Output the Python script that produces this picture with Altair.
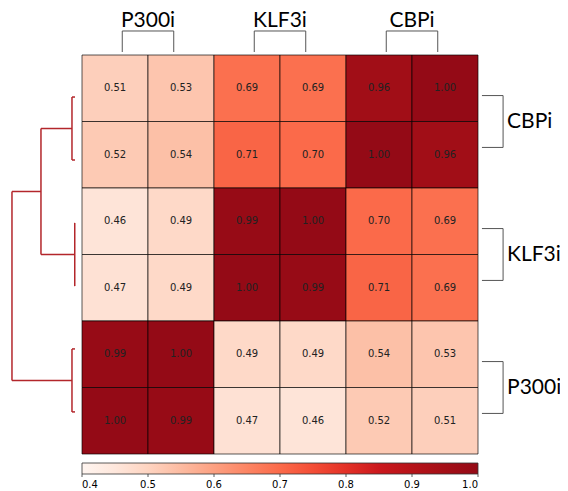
import altair as alt
import pandas as pd

# ---------------- data ----------------
row_labels = ["CBPi", "CBPi", "KLF3i", "KLF3i", "P300i", "P300i"]
col_labels = ["P300i", "P300i", "KLF3i", "KLF3i", "CBPi", "CBPi"]
values = [
    [0.51, 0.53, 0.69, 0.69, 0.96, 1.00],
    [0.52, 0.54, 0.71, 0.70, 1.00, 0.96],
    [0.46, 0.49, 0.99, 1.00, 0.70, 0.69],
    [0.47, 0.49, 1.00, 0.99, 0.71, 0.69],
    [0.99, 1.00, 0.49, 0.49, 0.54, 0.53],
    [1.00, 0.99, 0.47, 0.46, 0.52, 0.51],
]
col_groups = ["P300i", "KLF3i", "CBPi"]
row_groups = ["CBPi", "KLF3i", "P300i"]
colorbar_ticks = [0.4, 0.5, 0.6, 0.7, 0.8, 0.9, 1.0]
# linkage: (left node, right node, distance); leaves 0..5 in row order
linkage = [(0, 1, 0.048), (2, 3, 0.004), (4, 5, 0.048), (6, 7, 0.54), (9, 8, 1.0)]

# ---------------- styling / layout constants ----------------
VMIN, VMAX = 0.4, 1.0
reds = ["#fff5f0", "#fee0d2", "#fcbba1", "#fc9272", "#fb6a4a",
        "#ef3b2c", "#cb181d", "#ac1117", "#940a16"]
cdomain = [VMIN + i * (VMAX - VMIN) / (len(reds) - 1) for i in range(len(reds))]
DEND_COLOR = "#b3262b"
BRACKET_COLOR = "#555555"
LABEL_FONT = "Lato"

# dendrogram placement (data units of the heatmap grid)
leaf_y0, leaf_step = 0.632, 0.947
dend_x0, dend_unit = -0.106, 0.955

n = len(row_labels)
m = len(col_labels)

# heatmap table
cells = []
for r in range(n):
    for c in range(m):
        cells.append({"r": r, "r2": r + 1, "c": c, "c2": c + 1,
                      "cx": c + 0.5, "cy": r + 0.5, "v": values[r][c]})
cells = pd.DataFrame(cells)

# dendrogram segments
node_y = {i: leaf_y0 + i * leaf_step for i in range(n)}
node_d = {i: 0.0 for i in range(n)}
segs = []
def dx(d):
    return dend_x0 - d * dend_unit
for k, (a, b, d) in enumerate(linkage):
    nid = n + k
    segs.append({"x": dx(d), "x2": dx(d), "y": node_y[a], "y2": node_y[b]})
    segs.append({"x": dx(node_d[a]), "x2": dx(d), "y": node_y[a], "y2": node_y[a]})
    segs.append({"x": dx(node_d[b]), "x2": dx(d), "y": node_y[b], "y2": node_y[b]})
    node_y[nid] = (node_y[a] + node_y[b]) / 2
    node_d[nid] = d
segs = pd.DataFrame(segs)

# top brackets
hw = 0.39
top_y, bot_y = -0.361, -0.045
tb = []
tl = []
for i, g in enumerate(col_groups):
    cxg = 2 * i + 1
    tb.append({"x": cxg - hw, "x2": cxg - hw, "y": top_y, "y2": bot_y})
    tb.append({"x": cxg - hw, "x2": cxg + hw, "y": top_y, "y2": top_y})
    tb.append({"x": cxg + hw, "x2": cxg + hw, "y": top_y, "y2": bot_y})
    tl.append({"x": cxg, "y": -0.421, "t": g})
# right brackets
rl_x0, rl_x1 = 6.06, 6.38
for i, g in enumerate(row_groups):
    cyg = 2 * i + 1
    tb.append({"x": rl_x0, "x2": rl_x1, "y": cyg - hw, "y2": cyg - hw})
    tb.append({"x": rl_x1, "x2": rl_x1, "y": cyg - hw, "y2": cyg + hw})
    tb.append({"x": rl_x0, "x2": rl_x1, "y": cyg + hw, "y2": cyg + hw})
tb = pd.DataFrame(tb)
tl = pd.DataFrame(tl)
rl = pd.DataFrame([{"x": 6.44, "y": 2 * i + 1, "t": g} for i, g in enumerate(row_groups)])

# colorbar ticks
cbt = pd.DataFrame([{"x": (v - VMIN) / (VMAX - VMIN) * m, "y": 6.301, "y2": 6.346}
                    for v in colorbar_ticks])

xs = alt.Scale(domain=[0, m], nice=False, zero=False)
ys = alt.Scale(domain=[0, n], nice=False, zero=False, reverse=True)

heat = alt.Chart(cells).mark_rect(stroke="black", strokeOpacity=0.65, strokeWidth=1).encode(
    x=alt.X("c:Q", scale=xs, axis=None),
    x2="c2:Q",
    y=alt.Y("r:Q", scale=ys, axis=None),
    y2="r2:Q",
    color=alt.Color(
        "v:Q",
        scale=alt.Scale(domain=cdomain, range=reds, clamp=True),
        legend=alt.Legend(
            orient="none", legendX=0, legendY=408, direction="horizontal",
            gradientLength=396, gradientThickness=11, title=None,
            values=colorbar_ticks, format=".1f", labelFont="DejaVu Sans",
            labelFontSize=10, labelColor="black", labelAlign="center",
            labelOffset=6, gradientStrokeColor="#333333", gradientStrokeWidth=0.8,
            labelOverlap=False,
        ),
    ),
)

annot = alt.Chart(cells).mark_text(font="DejaVu Sans", fontSize=10, color="#222222").encode(
    x=alt.X("cx:Q", scale=xs, axis=None),
    y=alt.Y("cy:Q", scale=ys, axis=None),
    text=alt.Text("v:Q", format=".2f"),
)

dend = alt.Chart(segs).mark_rule(color=DEND_COLOR, strokeWidth=1.5).encode(
    x=alt.X("x:Q", scale=xs, axis=None), x2="x2:Q",
    y=alt.Y("y:Q", scale=ys, axis=None), y2="y2:Q",
)

brackets = alt.Chart(tb).mark_rule(color=BRACKET_COLOR, strokeWidth=1).encode(
    x=alt.X("x:Q", scale=xs, axis=None), x2="x2:Q",
    y=alt.Y("y:Q", scale=ys, axis=None), y2="y2:Q",
)

top_labels = alt.Chart(tl).mark_text(font=LABEL_FONT, fontSize=21, color="black",
                                     align="center", baseline="alphabetic").encode(
    x=alt.X("x:Q", scale=xs, axis=None),
    y=alt.Y("y:Q", scale=ys, axis=None),
    text="t:N",
)

right_labels = alt.Chart(rl).mark_text(font=LABEL_FONT, fontSize=21, color="black",
                                       align="left", baseline="middle").encode(
    x=alt.X("x:Q", scale=xs, axis=None),
    y=alt.Y("y:Q", scale=ys, axis=None),
    text="t:N",
)

cb_ticks = alt.Chart(cbt).mark_rule(color="#333333", strokeWidth=0.8).encode(
    x=alt.X("x:Q", scale=xs, axis=None),
    y=alt.Y("y:Q", scale=ys, axis=None), y2="y2:Q",
)

chart = alt.layer(heat, annot, dend, brackets, top_labels, right_labels, cb_ticks).properties(
    width=396, height=399,
    autosize=alt.AutoSizeParams(type="none"),
    padding={"left": 74, "top": 47, "right": 82, "bottom": 37},
    background="white",
).configure_view(stroke=None)

chart.save("out.html", embed_options={"renderer": "svg", "actions": False})
